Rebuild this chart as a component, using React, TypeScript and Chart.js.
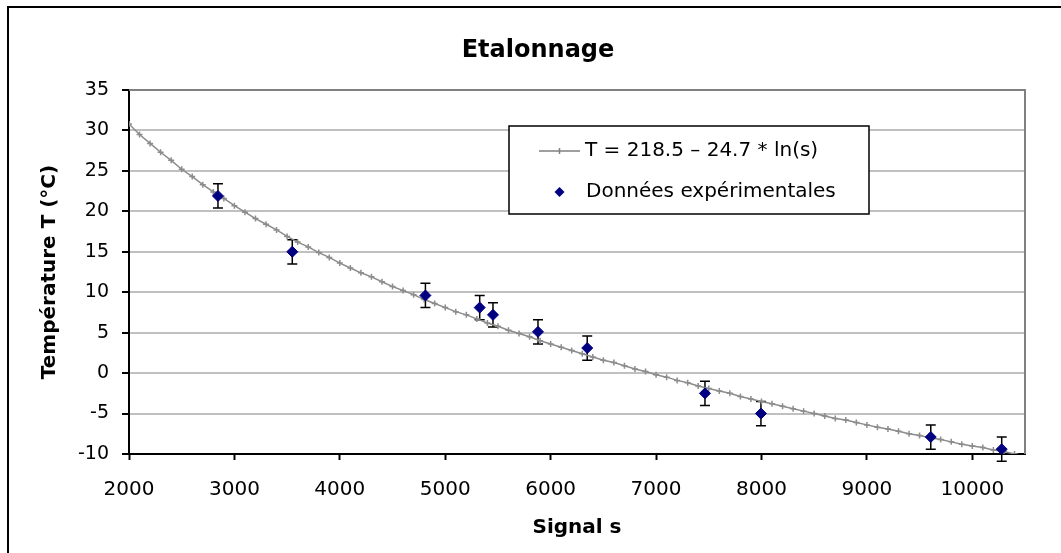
import { useEffect, useRef } from 'react';
import { Chart, registerables } from 'chart.js';

Chart.register(...registerables);

// Courbe d'étalonnage (signal s, température T)
const fitS = [
  2000, 2100, 2200, 2300, 2400, 2500, 2600, 2700, 2800, 2900,
  3000, 3100, 3200, 3300, 3400, 3500, 3600, 3700, 3800, 3900,
  4000, 4100, 4200, 4300, 4400, 4500, 4600, 4700, 4800, 4900,
  5000, 5100, 5200, 5300, 5400, 5500, 5600, 5700, 5800, 5900,
  6000, 6100, 6200, 6300, 6400, 6500, 6600, 6700, 6800, 6900,
  7000, 7100, 7200, 7300, 7400, 7500, 7600, 7700, 7800, 7900,
  8000, 8100, 8200, 8300, 8400, 8500, 8600, 8700, 8800, 8900,
  9000, 9100, 9200, 9300, 9400, 9500, 9600, 9700, 9800, 9900,
  10000, 10100, 10200, 10300, 10400, 10500,
];
const fitT = [
  30.8, 29.5, 28.4, 27.3, 26.3, 25.2, 24.3, 23.3, 22.4, 21.6,
  20.7, 19.9, 19.1, 18.4, 17.7, 16.9, 16.2, 15.6, 14.9, 14.3,
  13.6, 13.0, 12.4, 11.9, 11.3, 10.7, 10.2, 9.7, 9.1, 8.6,
  8.1, 7.6, 7.2, 6.7, 6.2, 5.8, 5.3, 4.9, 4.5, 4.0,
  3.6, 3.2, 2.8, 2.4, 2.0, 1.6, 1.3, 0.9, 0.5, 0.2,
  -0.2, -0.5, -0.9, -1.2, -1.6, -1.9, -2.2, -2.5, -2.9, -3.2,
  -3.5, -3.8, -4.1, -4.4, -4.7, -5.0, -5.3, -5.6, -5.8, -6.1,
  -6.4, -6.7, -6.9, -7.2, -7.5, -7.7, -8.0, -8.2, -8.5, -8.8,
  -9.0, -9.2, -9.5, -9.7, -10.0, -10.2,
];

// Données expérimentales
const expS = [2844, 3549, 4812, 5327, 5453, 5880, 6347, 7464, 7995, 9606, 10279];
const expT = [21.9, 15.0, 9.6, 8.1, 7.2, 5.1, 3.1, -2.5, -5.0, -7.9, -9.4];
const expErr = [1.5, 1.5, 1.5, 1.5, 1.5, 1.5, 1.5, 1.5, 1.5, 1.5, 1.5];

// Graduations
const xTickValues = [2000, 3000, 4000, 5000, 6000, 7000, 8000, 9000, 10000];
const yTickValues = [-10, -5, 0, 5, 10, 15, 20, 25, 30, 35];

const chartTitle = 'Etalonnage';
const xTitle = 'Signal s';
const yTitle = 'Température T (°C)';
const fitLabel = 'T = 218.5 – 24.7 * ln(s)';
const expLabel = 'Données expérimentales';
const xMin = 2000;
const xMax = 10500;
const yMin = -10;
const yMax = 35;

const FONT = "'DejaVu Sans', 'Liberation Sans', Arial, sans-serif";

export default function App() {
  const ref = useRef<HTMLCanvasElement>(null);

  useEffect(() => {
    const canvas = ref.current;
    if (!canvas) return;

    const framePlugin = {
      id: 'framePlugin',
      beforeDraw(chart: any) {
        const ctx = chart.ctx;
        ctx.save();
        ctx.fillStyle = '#ffffff';
        ctx.fillRect(0, 0, chart.width, chart.height);
        ctx.restore();
      },
      beforeDatasetsDraw(chart: any) {
        const ctx = chart.ctx;
        const a = chart.chartArea;
        ctx.save();
        // plot area border (top / right) in grey
        ctx.strokeStyle = '#808080';
        ctx.lineWidth = 2;
        ctx.beginPath();
        ctx.moveTo(a.left, a.top);
        ctx.lineTo(a.right, a.top);
        ctx.lineTo(a.right, a.bottom);
        ctx.stroke();
        // error bars
        const xs = chart.scales.x;
        const ys = chart.scales.y;
        ctx.strokeStyle = '#000000';
        ctx.lineWidth = 1.5;
        for (let i = 0; i < expS.length; i++) {
          const px = xs.getPixelForValue(expS[i]);
          const pTop = ys.getPixelForValue(expT[i] + expErr[i]);
          const pBot = ys.getPixelForValue(expT[i] - expErr[i]);
          ctx.beginPath();
          ctx.moveTo(px, pTop);
          ctx.lineTo(px, pBot);
          ctx.moveTo(px - 5, pTop);
          ctx.lineTo(px + 5, pTop);
          ctx.moveTo(px - 5, pBot);
          ctx.lineTo(px + 5, pBot);
          ctx.stroke();
        }
        ctx.restore();
      },
      afterDraw(chart: any) {
        const ctx = chart.ctx;
        ctx.save();
        // outer frame
        ctx.fillStyle = '#000000';
        ctx.fillRect(7, 6, chart.width - 7, 2);
        ctx.fillRect(7, 6, 2, chart.height - 6);

        // chart title
        ctx.fillStyle = '#000000';
        ctx.font = `bold 24px ${FONT}`;
        ctx.textAlign = 'center';
        ctx.textBaseline = 'middle';
        ctx.fillText(chartTitle, 538, 51);

        // legend box
        const bx = 509, by = 126, bw = 360, bh = 88;
        ctx.fillStyle = '#ffffff';
        ctx.fillRect(bx, by, bw, bh);
        ctx.strokeStyle = '#000000';
        ctx.lineWidth = 1.5;
        ctx.strokeRect(bx, by, bw, bh);

        const ds0 = chart.data.datasets[1];
        const ds1 = chart.data.datasets[0];
        // line sample
        const y1 = 151;
        ctx.strokeStyle = '#808080';
        ctx.lineWidth = 1.5;
        ctx.beginPath();
        ctx.moveTo(539, y1);
        ctx.lineTo(580, y1);
        ctx.moveTo(559.5, y1 - 3);
        ctx.lineTo(559.5, y1 + 3);
        ctx.stroke();
        ctx.fillStyle = '#000000';
        ctx.font = `20px ${FONT}`;
        ctx.textBaseline = 'middle';
        ctx.textAlign = 'left';
        ctx.fillText(ds0.label, 585, y1);

        // diamond sample
        const y2 = 192;
        ctx.fillStyle = '#000080';
        ctx.beginPath();
        ctx.moveTo(559.5, y2 - 5);
        ctx.lineTo(564.5, y2);
        ctx.lineTo(559.5, y2 + 5);
        ctx.lineTo(554.5, y2);
        ctx.closePath();
        ctx.fill();
        ctx.fillStyle = '#000000';
        ctx.fillText(ds1.label, 586, y2);
        ctx.restore();
      },
    };

    const chart = new Chart(canvas, {
      type: 'scatter',
      data: {
        datasets: [
          {
            label: expLabel,
            data: expS.map((s, i) => ({ x: s, y: expT[i] })),
            pointStyle: 'rectRot',
            pointRadius: 5.5,
            pointBackgroundColor: '#000080',
            pointBorderColor: '#000080',
            pointBorderWidth: 1,
            showLine: false,
          },
          {
            label: fitLabel,
            data: fitS.map((s, i) => ({ x: s, y: fitT[i] })),
            showLine: true,
            borderColor: '#8c8c8c',
            borderWidth: 1.5,
            pointStyle: 'cross',
            pointRadius: 3,
            pointBorderColor: '#8c8c8c',
            pointBorderWidth: 1.5,
            pointBackgroundColor: '#8c8c8c',
            tension: 0,
          },
        ],
      },
      options: {
        responsive: false,
        animation: false,
        events: [],
        layout: { padding: { left: 0, top: 90, right: 36, bottom: 0 } },
        plugins: {
          legend: { display: false },
          tooltip: { enabled: false },
          title: { display: false },
        },
        scales: {
          x: {
            type: 'linear',
            min: xMin,
            max: xMax,
            afterBuildTicks: (scale: any) => {
              scale.ticks = xTickValues.map((v) => ({ value: v }));
            },
            afterFit: (scale: any) => {
              scale.height = 99;
            },
            ticks: {
              color: '#000000',
              font: { family: FONT, size: 20 },
              padding: 18,
              maxRotation: 0,
              minRotation: 0,
              autoSkip: false,
              callback: (v: any) => String(v),
            },
            grid: {
              drawOnChartArea: false,
              drawTicks: true,
              tickLength: 6,
              tickColor: '#000000',
              tickWidth: 2,
            },
            border: { display: true, color: '#000000', width: 2 },
            title: {
              display: true,
              text: xTitle,
              color: '#000000',
              font: { family: FONT, size: 20, weight: 'bold', lineHeight: 1.2 },
              padding: { top: 0, bottom: 13 },
            },
          },
          y: {
            type: 'linear',
            min: yMin,
            max: yMax,
            afterBuildTicks: (scale: any) => {
              scale.ticks = yTickValues.map((v) => ({ value: v }));
            },
            afterFit: (scale: any) => {
              scale.width = 129;
            },
            ticks: {
              color: '#000000',
              font: { family: FONT, size: 19 },
              padding: 13,
              autoSkip: false,
              callback: (v: any) => String(v),
            },
            grid: {
              drawOnChartArea: true,
              color: (c: any) => (c.tick && c.tick.value === yMax ? '#808080' : '#c0c0c0'),
              lineWidth: 2,
              drawTicks: true,
              tickLength: 7,
              tickColor: '#000000',
              tickWidth: 2,
            },
            border: { display: true, color: '#000000', width: 2 },
            title: {
              display: true,
              text: yTitle,
              color: '#000000',
              font: { family: FONT, size: 20, weight: 'bold', lineHeight: 1.2 },
              padding: { top: 38, bottom: 0 },
            },
          },
        },
      },
      plugins: [framePlugin],
    });

    return () => {
      chart.destroy();
    };
  }, []);

  return (
    <div style={{ position: 'absolute', left: 0, top: 0, width: 1061, height: 553, background: '#ffffff' }}>
      <canvas ref={ref} width={1061} height={553} style={{ display: 'block', width: 1061, height: 553 }} />
    </div>
  );
}
